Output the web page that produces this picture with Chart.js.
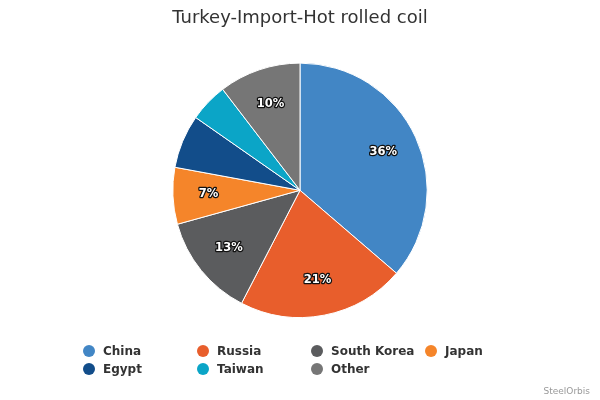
<!DOCTYPE html>
<html>
<head>
<meta charset="utf-8">
<script src="https://cdn.jsdelivr.net/npm/chart.js@4"></script>
<style>
  body { margin: 0; background: #fff; }
  #wrap { position: relative; width: 600px; height: 400px; }
  #legend { position: absolute; left: 83px; top: 342px; display: grid;
            grid-template-columns: 114px 114px 114px 114px; grid-auto-rows: 18px;
            font: bold 12px "DejaVu Sans", sans-serif; color: #333; }
  #legend div { display: flex; align-items: center; white-space: nowrap; }
  #legend span { display: inline-block; width: 12px; height: 12px; border-radius: 50%; margin-right: 8px; }
  #credit { position: absolute; right: 10px; top: 386px; font: 9px "DejaVu Sans", sans-serif; color: #999; }
</style>
</head>
<body>
<div id="wrap">
  <canvas id="pie_Chart" width="600" height="400"></canvas>
  <div id="legend"></div>
  <div id="credit">SteelOrbis</div>
</div>
<script>
var paises = ["China", "Russia", "South Korea", "Japan", "Egypt", "Taiwan", "Other"];
var valores = [36.3, 21.3, 13.1, 7.2, 6.8, 4.9, 10.4];
var colores = ["#4286C5", "#E85E2C", "#5B5C5E", "#F5852A", "#124D8A", "#0BA5C7", "#767676"];

// etiquetas de porcentaje dentro de la torta
var etiquetas = {
    id: "etiquetas",
    afterDatasetsDraw: function (chart) {
        var ctx = chart.ctx;
        var meta = chart.getDatasetMeta(0);
        var total = valores.reduce(function (a, b) { return a + b; }, 0);
        ctx.save();
        ctx.font = "bold 11.5px 'DejaVu Sans', sans-serif";
        ctx.textAlign = "center";
        ctx.textBaseline = "middle";
        ctx.lineJoin = "round";
        meta.data.forEach(function (arc, i) {
            var pct = valores[i] / total * 100;
            if (pct < 7) return;
            var mid = (arc.startAngle + arc.endAngle) / 2;
            var r = arc.outerRadius * 0.72;
            var x = arc.x + Math.cos(mid) * r;
            var y = arc.y + Math.sin(mid) * r;
            var txt = Math.round(pct) + "%";
            ctx.lineWidth = 2.5;
            ctx.strokeStyle = "#111";
            ctx.strokeText(txt, x, y);
            ctx.fillStyle = "#fff";
            ctx.fillText(txt, x, y);
        });
        ctx.restore();
    },
};

var pieChart = new Chart(document.getElementById("pie_Chart").getContext("2d"), {
    type: "pie",
    data: {
        labels: paises,
        datasets: [{
            data: valores,
            backgroundColor: colores,
            borderColor: "#fff",
            borderWidth: 1,
        }],
    },
    options: {
        responsive: false,
        animation: false,
        layout: { padding: { bottom: 82 } },
        plugins: {
            legend: { display: false },
            tooltip: { enabled: false },
            title: {
                display: true,
                text: "Turkey-Import-Hot rolled coil",
                color: "#333",
                font: { family: "'DejaVu Sans', sans-serif", size: 18, weight: "normal" },
                padding: { top: 8, bottom: 33 },
            },
        },
    },
    plugins: [etiquetas],
});

var leyenda = document.getElementById("legend");
paises.forEach(function (p, i) {
    var d = document.createElement("div");
    d.innerHTML = '<span style="background:' + colores[i] + '"></span>' + p;
    leyenda.appendChild(d);
});
</script>
</body>
</html>
